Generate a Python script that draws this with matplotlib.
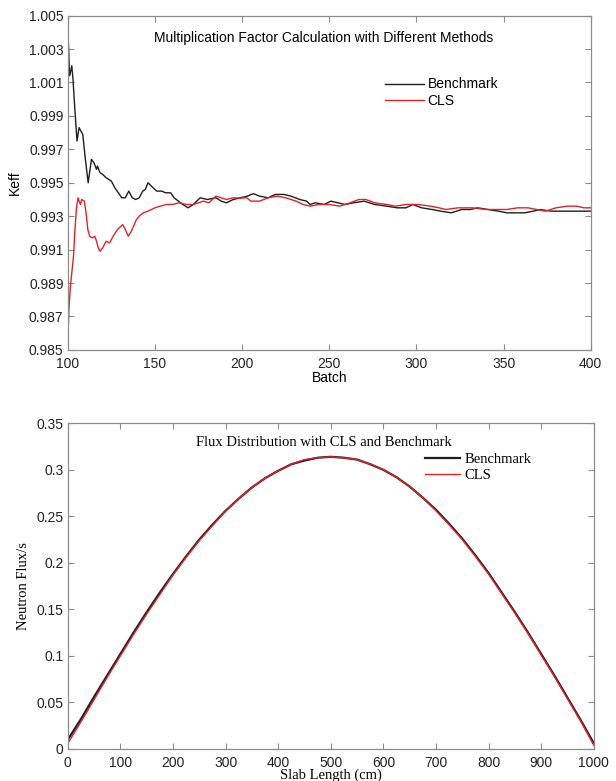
import matplotlib
matplotlib.use("Agg")
import matplotlib.pyplot as plt
import numpy as np

# ---------------- data: top chart (Keff vs batch) ----------------
bench_batch = [100, 100.5, 101, 101.5, 102.3, 103, 104, 105.3, 106.5, 107.5, 108.6, 110, 111.7,
               113.6, 115, 116.5, 117, 118.5, 120, 122, 125, 127, 129, 131, 133, 135, 137, 139,
               141, 143, 144.5, 146, 148, 151, 154, 156, 159, 161, 163.5, 166, 169, 172, 176,
               180, 185, 188, 191, 195, 199, 203, 206.5, 210, 215, 219, 224, 228, 233, 237,
               239, 242, 247, 251, 255, 259, 264, 270, 276, 283, 289, 294, 298, 303, 309, 314,
               320, 326, 331, 335, 341, 347, 352, 357, 362, 367, 371, 377, 383, 390, 395, 400]
bench_keff = [1.0045, 1.0030, 1.0014, 1.0016, 1.0020, 1.0012, 0.9995, 0.9975, 0.9983, 0.9981,
              0.9979, 0.9965, 0.9950, 0.9964, 0.9962, 0.9958, 0.9960, 0.9956, 0.9955, 0.9953,
              0.9951, 0.9947, 0.9944, 0.9941, 0.9941, 0.9945, 0.9941, 0.9940, 0.9941, 0.9945,
              0.9946, 0.9950, 0.9948, 0.9945, 0.9945, 0.9944, 0.9944, 0.9941, 0.9939, 0.9937,
              0.9935, 0.9937, 0.9941, 0.9940, 0.9941, 0.9939, 0.9938, 0.9940, 0.9941, 0.9942,
              0.99435, 0.9942, 0.9941, 0.9943, 0.9943, 0.9942, 0.9940, 0.9939, 0.9937, 0.9938,
              0.9937, 0.9939, 0.9938, 0.9937, 0.9938, 0.9939, 0.9937, 0.9936, 0.9935, 0.9935,
              0.9937, 0.9935, 0.9934, 0.9933, 0.9932, 0.9934, 0.9934, 0.9935, 0.9934, 0.9933,
              0.9932, 0.9932, 0.9932, 0.9933, 0.9934, 0.9933, 0.9933, 0.9933, 0.9933, 0.9933]

cls_batch = [100, 100.7, 101.5, 102.5, 103.3, 104, 105, 105.9, 106.5, 107.3, 108, 109.5, 110.5,
             111.5, 112.6, 114, 115.5, 116.5, 117.5, 118.5, 120, 122, 124, 126, 128.5, 131.5,
             133, 134.7, 136.5, 139.4, 141, 143.3, 146, 150, 153, 156.7, 160, 164, 168, 172,
             175, 177.8, 181, 185, 188, 191, 195, 199, 202.7, 205, 210, 215, 220, 225, 231,
             235, 239, 244, 250, 256, 262, 267, 271, 276, 283, 288, 294, 301, 308, 313, 317,
             324, 332, 340, 346, 352, 358, 364, 369, 374, 380, 386.6, 392, 396, 400]
cls_keff = [0.9856, 0.9875, 0.9888, 0.9898, 0.9906, 0.9920, 0.9935, 0.9941, 0.9939, 0.9937,
            0.9940, 0.9939, 0.9932, 0.9922, 0.9918, 0.9917, 0.9918, 0.9915, 0.9911, 0.9909,
            0.9911, 0.9915, 0.9914, 0.9918, 0.9922, 0.9925, 0.9922, 0.9918, 0.9921, 0.9928,
            0.9930, 0.9932, 0.9933, 0.9935, 0.9936, 0.9937, 0.9937, 0.9938, 0.9937, 0.9937,
            0.9938, 0.9939, 0.9938, 0.9942, 0.9941, 0.9940, 0.9941, 0.99408, 0.9941, 0.9939,
            0.9939, 0.9941, 0.9942, 0.9941, 0.9939, 0.9937, 0.9936, 0.9937, 0.9937, 0.9936,
            0.9938, 0.9940, 0.9940, 0.9938, 0.9937, 0.9936, 0.9937, 0.9937, 0.9936, 0.9935,
            0.9934, 0.9935, 0.9935, 0.9934, 0.9934, 0.9934, 0.9935, 0.9935, 0.9934, 0.9933,
            0.9935, 0.9936, 0.9936, 0.9935, 0.9935]

# ---------------- data: bottom chart (flux vs slab length) ----------------
slab_x = [0, 25, 50, 75, 100, 125, 150, 175, 200, 225, 250, 275, 300, 325, 350, 375, 400,
          425, 450, 475, 500, 525, 550, 575, 600, 625, 650, 675, 700, 725, 750, 775, 800,
          825, 850, 875, 900, 925, 950, 975, 1000]
flux_bench = [0.010, 0.032, 0.056, 0.079, 0.102, 0.125, 0.147, 0.168, 0.188, 0.207, 0.225,
              0.241, 0.256, 0.269, 0.281, 0.291, 0.299, 0.306, 0.310, 0.313, 0.314, 0.313,
              0.311, 0.306, 0.300, 0.292, 0.282, 0.270, 0.257, 0.242, 0.226, 0.208, 0.189,
              0.168, 0.147, 0.125, 0.102, 0.079, 0.055, 0.031, 0.006]
flux_cls = [0.006, 0.029, 0.053, 0.077, 0.100, 0.123, 0.145, 0.166, 0.187, 0.206, 0.224,
            0.240, 0.256, 0.269, 0.281, 0.291, 0.299, 0.306, 0.311, 0.313, 0.314, 0.313,
            0.311, 0.306, 0.300, 0.292, 0.282, 0.270, 0.256, 0.241, 0.225, 0.207, 0.188,
            0.167, 0.146, 0.124, 0.101, 0.078, 0.054, 0.030, 0.004]

top_yticks = [0.985, 0.987, 0.989, 0.991, 0.993, 0.995, 0.997, 0.999, 1.001, 1.003, 1.005]
top_xticks = [100, 150, 200, 250, 300, 350, 400]
bot_yticks = [0, 0.05, 0.1, 0.15, 0.2, 0.25, 0.3, 0.35]
bot_ytick_labels = ["0", "0.05", "0.1", "0.15", "0.2", "0.25", "0.3", "0.35"]
bot_xticks = [0, 100, 200, 300, 400, 500, 600, 700, 800, 900, 1000]

# ---------------- styling ----------------
SANS = ["Liberation Sans", "DejaVu Sans"]
SERIF = ["Liberation Serif", "DejaVu Serif"]
BLACK = "#1e1e1e"
RED = "#e0232a"
SPINE = "#8c8c8c"

fig = plt.figure(figsize=(6.16, 7.81), dpi=100)

def style_axes(ax):
    for s in ax.spines.values():
        s.set_color(SPINE)
        s.set_linewidth(0.9)
    ax.tick_params(direction="in", length=4, width=0.8, color=SPINE,
                   top=True, right=True, labelsize=10, pad=3)
    ax.tick_params(axis="x", pad=5)
    for lab in ax.get_xticklabels() + ax.get_yticklabels():
        lab.set_family(SANS)
        lab.set_color("#222222")

# Top chart
ax1 = fig.add_axes([0.110, 0.552, 0.849, 0.428])
ax1.plot(bench_batch, bench_keff, color=BLACK, lw=1.0, label="Benchmark")
ax1.plot(cls_batch, cls_keff, color=RED, lw=1.0, label="CLS")
ax1.set_xlim(100, 400)
ax1.set_ylim(0.985, 1.005)
ax1.set_yticks(top_yticks)
ax1.set_yticklabels([f"{v:.3f}" for v in top_yticks])
ax1.set_xticks(top_xticks)
ax1.set_xticklabels([str(v) for v in top_xticks])
style_axes(ax1)
ax1.set_xlabel("Batch", family=SANS, fontsize=10, labelpad=0)
ax1.set_ylabel("Keff", family=SANS, fontsize=10)
ax1.yaxis.set_label_coords(-0.088, 0.5)
ax1.text(0.49, 0.934, "Multiplication Factor Calculation with Different Methods",
         transform=ax1.transAxes, ha="center", va="center", family=SANS, fontsize=10)
ax1.legend(loc="upper left", bbox_to_anchor=(0.606, 0.815), frameon=False,
           prop={"family": SANS, "size": 10}, handlelength=2.8, handletextpad=0.3,
           labelspacing=0.2, borderaxespad=0, borderpad=0)

# Bottom chart
ax2 = fig.add_axes([0.110, 0.041, 0.854, 0.417])
ax2.plot(slab_x, flux_bench, color=BLACK, lw=1.6, label="Benchmark")
ax2.plot(slab_x, flux_cls, color=RED, lw=1.0, label="CLS")
ax2.set_xlim(0, 1000)
ax2.set_ylim(0, 0.35)
ax2.set_yticks(bot_yticks)
ax2.set_yticklabels(bot_ytick_labels)
ax2.set_xticks(bot_xticks)
ax2.set_xticklabels([str(v) for v in bot_xticks])
style_axes(ax2)
ax2.set_xlabel("Slab Length (cm)", family=SERIF, fontsize=10.5, labelpad=-1)
ax2.set_ylabel("Neutron Flux/s", family=SERIF, fontsize=10.5)
ax2.yaxis.set_label_coords(-0.072, 0.5)
ax2.text(0.487, 0.942, "Flux Distribution with CLS and Benchmark",
         transform=ax2.transAxes, ha="center", va="center", family=SERIF, fontsize=10.5)
ax2.legend(loc="upper left", bbox_to_anchor=(0.68, 0.908), frameon=False,
           prop={"family": SERIF, "size": 10.5}, handlelength=2.4, handletextpad=0.3,
           labelspacing=0.15, borderaxespad=0, borderpad=0)

fig.savefig("out.png", dpi=100)
